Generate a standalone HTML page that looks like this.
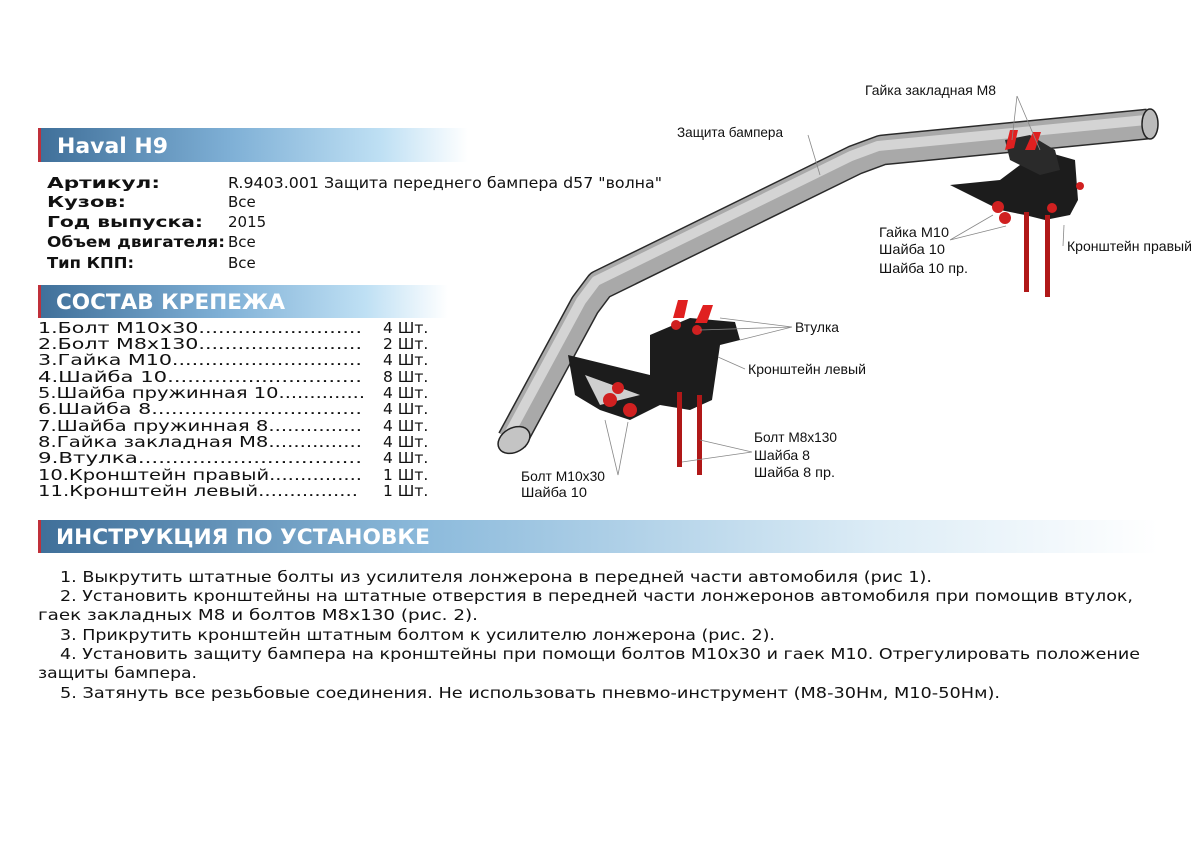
<!DOCTYPE html>
<html><head><meta charset="utf-8"><style>
html,body{margin:0;padding:0;background:#fff;}
svg{display:block}
.v{font-family:"DejaVu Sans",Verdana,sans-serif;fill:#111}
.n{font-family:"Liberation Sans",Arial,sans-serif;font-size:14px;fill:#111}
.h{font-family:"DejaVu Sans",sans-serif;font-weight:bold;fill:#fff}
</style></head><body>
<svg width="1200" height="848" viewBox="0 0 1200 848" xmlns="http://www.w3.org/2000/svg">
<defs>
<linearGradient id="g" x1="0" x2="1" y1="0" y2="0">
<stop offset="0" stop-color="#3f6f99"/><stop offset="0.45" stop-color="#7fb0d6"/><stop offset="0.8" stop-color="#bfe0f4"/><stop offset="1" stop-color="#ffffff"/></linearGradient>
<linearGradient id="g2" x1="0" x2="1" y1="0" y2="0">
<stop offset="0" stop-color="#3f6f99"/><stop offset="0.35" stop-color="#8dbbdc"/><stop offset="0.75" stop-color="#dcecf6"/><stop offset="1" stop-color="#ffffff"/></linearGradient>
</defs>
<rect x="38" y="128" width="430" height="34" fill="url(#g)"/><rect x="38" y="128" width="3" height="34" fill="#c0303a"/>
<text class="h" x="57" y="153" font-size="21" textLength="111" lengthAdjust="spacingAndGlyphs">Haval H9</text>
<rect x="38" y="285" width="410" height="33" fill="url(#g)"/><rect x="38" y="285" width="3" height="33" fill="#c0303a"/>
<text class="h" x="56" y="309" font-size="21" textLength="229" lengthAdjust="spacingAndGlyphs">СОСТАВ КРЕПЕЖА</text>
<rect x="38" y="520" width="1120" height="33" fill="url(#g2)"/><rect x="38" y="520" width="3" height="33" fill="#c0303a"/>
<text class="h" x="56" y="544" font-size="21" textLength="374" lengthAdjust="spacingAndGlyphs">ИНСТРУКЦИЯ ПО УСТАНОВКЕ</text>
<g class="v" font-size="15">
<text x="47" y="188" font-weight="bold" textLength="113" lengthAdjust="spacingAndGlyphs">Артикул:</text>
<text x="47" y="207" font-weight="bold" textLength="79" lengthAdjust="spacingAndGlyphs">Кузов:</text>
<text x="47" y="227" font-weight="bold" textLength="156" lengthAdjust="spacingAndGlyphs">Год выпуска:</text>
<text x="47" y="247" font-weight="bold" textLength="178" lengthAdjust="spacingAndGlyphs">Объем двигателя:</text>
<text x="47" y="268" font-weight="bold" textLength="87" lengthAdjust="spacingAndGlyphs">Тип КПП:</text>
<text x="228" y="188" textLength="434" lengthAdjust="spacingAndGlyphs">R.9403.001 Защита переднего бампера d57 "волна"</text>
<text x="228" y="207">Все</text><text x="228" y="227">2015</text><text x="228" y="247">Все</text><text x="228" y="268">Все</text>
</g>
<g class="v" font-size="15.5">
<text x="38" y="333" textLength="324" lengthAdjust="spacingAndGlyphs">1.Болт М10х30.........................</text>
<text x="38" y="349" textLength="324" lengthAdjust="spacingAndGlyphs">2.Болт М8х130.........................</text>
<text x="38" y="365" textLength="324" lengthAdjust="spacingAndGlyphs">3.Гайка М10.............................</text>
<text x="38" y="382" textLength="324" lengthAdjust="spacingAndGlyphs">4.Шайба 10.............................</text>
<text x="38" y="398" textLength="327" lengthAdjust="spacingAndGlyphs">5.Шайба пружинная 10..............</text>
<text x="38" y="414" textLength="324" lengthAdjust="spacingAndGlyphs">6.Шайба 8................................</text>
<text x="38" y="431" textLength="324" lengthAdjust="spacingAndGlyphs">7.Шайба пружинная 8...............</text>
<text x="38" y="447" textLength="324" lengthAdjust="spacingAndGlyphs">8.Гайка закладная М8...............</text>
<text x="38" y="463" textLength="324" lengthAdjust="spacingAndGlyphs">9.Втулка.................................</text>
<text x="38" y="480" textLength="324" lengthAdjust="spacingAndGlyphs">10.Кронштейн правый...............</text>
<text x="38" y="496" textLength="320" lengthAdjust="spacingAndGlyphs">11.Кронштейн левый................</text>
<text x="383" y="333">4 Шт.</text><text x="383" y="349">2 Шт.</text><text x="383" y="365">4 Шт.</text><text x="383" y="382">8 Шт.</text><text x="383" y="398">4 Шт.</text><text x="383" y="414">4 Шт.</text><text x="383" y="431">4 Шт.</text><text x="383" y="447">4 Шт.</text><text x="383" y="463">4 Шт.</text><text x="383" y="480">1 Шт.</text><text x="383" y="496">1 Шт.</text>
</g>
<g class="v" font-size="15.5">
<text x="60" y="582" textLength="872" lengthAdjust="spacingAndGlyphs">1. Выкрутить штатные болты из усилителя лонжерона в передней части автомобиля (рис 1).</text>
<text x="60" y="601" textLength="1073" lengthAdjust="spacingAndGlyphs">2. Установить кронштейны на штатные отверстия в передней части лонжеронов автомобиля при помощив втулок,</text>
<text x="38" y="620" textLength="440" lengthAdjust="spacingAndGlyphs">гаек закладных М8 и болтов М8х130 (рис. 2).</text>
<text x="60" y="640" textLength="715" lengthAdjust="spacingAndGlyphs">3. Прикрутить кронштейн штатным болтом к усилителю лонжерона (рис. 2).</text>
<text x="60" y="659" textLength="1080" lengthAdjust="spacingAndGlyphs">4. Установить защиту бампера на кронштейны при помощи болтов М10х30 и гаек М10. Отрегулировать положение</text>
<text x="38" y="678" textLength="159" lengthAdjust="spacingAndGlyphs">защиты бампера.</text>
<text x="60" y="698" textLength="940" lengthAdjust="spacingAndGlyphs">5. Затянуть все резьбовые соединения. Не использовать пневмо-инструмент (М8-30Нм, М10-50Нм).</text>
</g>
<g fill="none" stroke-linejoin="round">
<polyline points="512,440 585,305 600,285 855,160 882,150 1148,124" stroke="#2a2a2a" stroke-width="31"/>
<polyline points="512,440 585,305 600,285 855,160 882,150 1148,124" stroke="#a9a9a9" stroke-width="28"/>
<polyline points="508,436 581,301 596,281 851,156 878,146 1146,120" stroke="#d4d4d4" stroke-width="10"/>
</g>
<ellipse cx="514" cy="440" rx="17" ry="12" fill="#c4c4c4" stroke="#222" stroke-width="1.5" transform="rotate(-30 514 440)"/>
<ellipse cx="1150" cy="124" rx="8" ry="15" fill="#bbb" stroke="#222" stroke-width="1.5"/>
<polygon points="950,185 1000,180 1040,150 1075,160 1078,200 1070,215 1045,220 1025,215 1000,210" fill="#1c1c1c"/>
<polygon points="1005,140 1030,135 1055,150 1060,170 1040,175 1010,160" fill="#2a2a2a"/>
<rect x="1024" y="212" width="5" height="80" fill="#b01818"/><rect x="1045" y="215" width="5" height="82" fill="#b01818"/>
<path d="M1005,150 l5,-20 h8 l-4,18z M1025,150 l8,-18 h8 l-6,18z" fill="#e02020"/>
<circle cx="998" cy="207" r="6" fill="#d02020"/><circle cx="1005" cy="218" r="6" fill="#d02020"/><circle cx="1052" cy="208" r="5" fill="#d02020"/><circle cx="1080" cy="186" r="4" fill="#d02020"/>
<polygon points="568,355 650,375 650,335 690,318 735,322 740,340 720,345 712,400 690,410 660,405 630,420 600,410 575,395" fill="#1c1c1c"/>
<polygon points="585,375 640,395 600,405" fill="#cfcfcf"/>
<rect x="677" y="392" width="5" height="75" fill="#b01818"/><rect x="697" y="395" width="5" height="80" fill="#b01818"/>
<path d="M673,318 l5,-18 h10 l-4,18z M695,323 l8,-18 h10 l-6,18z" fill="#e02020"/>
<circle cx="676" cy="325" r="5" fill="#d02020"/><circle cx="697" cy="330" r="5" fill="#d02020"/>
<circle cx="610" cy="400" r="7" fill="#d02020"/><circle cx="630" cy="410" r="7" fill="#d02020"/><circle cx="618" cy="388" r="6" fill="#d02020"/>
<g stroke="#888" stroke-width="0.8" fill="none">
<path d="M1017,96 L1012,140 M1017,96 L1040,150"/>
<path d="M808,135 L820,175"/>
<path d="M950,240 L993,215 M950,240 L1006,226"/>
<path d="M1063,246 L1064,225"/>
<path d="M792,327 L720,318 M792,327 L700,330 M792,327 L740,340"/>
<path d="M745,369 L718,357"/>
<path d="M752,452 L700,440 M752,452 L682,462"/>
<path d="M618,475 L605,420 M618,475 L628,422"/>
</g>
<g class="n">
<text x="865" y="95" textLength="131" lengthAdjust="spacingAndGlyphs">Гайка закладная М8</text>
<text x="677" y="137" textLength="106" lengthAdjust="spacingAndGlyphs">Защита бампера</text>
<text x="879" y="237" textLength="70" lengthAdjust="spacingAndGlyphs">Гайка М10</text>
<text x="879" y="254" textLength="66" lengthAdjust="spacingAndGlyphs">Шайба 10</text>
<text x="879" y="273" textLength="89" lengthAdjust="spacingAndGlyphs">Шайба 10 пр.</text>
<text x="1067" y="251" textLength="125" lengthAdjust="spacingAndGlyphs">Кронштейн правый</text>
<text x="795" y="332" textLength="44" lengthAdjust="spacingAndGlyphs">Втулка</text>
<text x="748" y="374" textLength="118" lengthAdjust="spacingAndGlyphs">Кронштейн левый</text>
<text x="754" y="442" textLength="83" lengthAdjust="spacingAndGlyphs">Болт М8х130</text>
<text x="754" y="460" textLength="56" lengthAdjust="spacingAndGlyphs">Шайба 8</text>
<text x="754" y="477" textLength="81" lengthAdjust="spacingAndGlyphs">Шайба 8 пр.</text>
<text x="521" y="481" textLength="84" lengthAdjust="spacingAndGlyphs">Болт М10х30</text>
<text x="521" y="497" textLength="66" lengthAdjust="spacingAndGlyphs">Шайба 10</text>
</g>
</svg>
</body></html>
